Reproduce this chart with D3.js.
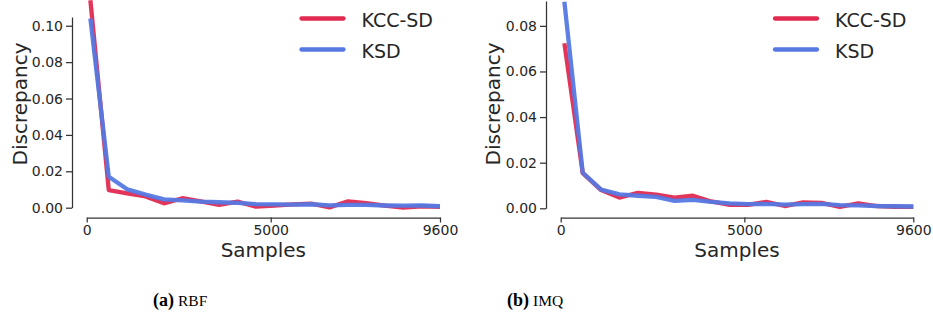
<!DOCTYPE html>
<html>
<head>
<meta charset="utf-8">
<script src="https://cdn.jsdelivr.net/npm/d3@7"></script>
<style>
  body { margin: 0; background: #fff; }
  .axis text { font-family: "DejaVu Sans", sans-serif; font-size: 14px; fill: #262626; }
  .axis path, .axis line { stroke: #333; stroke-width: 1.25; }
  .lbl { font-family: "DejaVu Sans", sans-serif; font-size: 20px; fill: #262626; }
  .leg { font-family: "DejaVu Sans", sans-serif; font-size: 19px; fill: #262626; }
  .cap { font-family: "Liberation Serif", "Times New Roman", serif; fill: #000; }
</style>
</head>
<body>
<div id="chart"></div>
<script>
// sample counts on the x axis
var samples = [100, 600, 1100, 1600, 2100, 2600, 3100, 3600, 4100, 4600,
               5100, 5600, 6100, 6600, 7100, 7600, 8100, 8600, 9100, 9600];
var xTicks = [0, 5000, 9600];

// (a) RBF kernel
var rbfKcc = [0.114, 0.0097, 0.0079, 0.0062, 0.0024, 0.0052, 0.0035, 0.0015, 0.0033, 0.0006,
              0.0012, 0.0018, 0.0022, 0.0002, 0.0035, 0.0025, 0.0012, 0.0000, 0.0008, 0.0005];
var rbfKsd = [0.104, 0.0170, 0.0101, 0.0072, 0.0046, 0.0040, 0.0033, 0.0030, 0.0027, 0.0020,
              0.0018, 0.0017, 0.0019, 0.0013, 0.0015, 0.0015, 0.0012, 0.0011, 0.0012, 0.0008];
var rbfTicks = [0, 0.02, 0.04, 0.06, 0.08, 0.10];

// (b) IMQ kernel
var imqKcc = [0.0724, 0.0154, 0.0080, 0.0047, 0.0068, 0.0060, 0.0047, 0.0055, 0.0030, 0.0015,
              0.0015, 0.0028, 0.0010, 0.0026, 0.0024, 0.0006, 0.0022, 0.0010, 0.0006, 0.0006];
var imqKsd = [0.0906, 0.0156, 0.0082, 0.0061, 0.0055, 0.0050, 0.0033, 0.0037, 0.0028, 0.0022,
              0.0018, 0.0019, 0.0016, 0.0018, 0.0019, 0.0014, 0.0013, 0.0010, 0.0009, 0.0008];
var imqTicks = [0, 0.02, 0.04, 0.06, 0.08];

var seriesNames = ['KCC-SD', 'KSD'];
var colors = ['#e12a50', '#5578e3'];

var svg = d3.select('#chart').append('svg')
  .attr('width', 933)
  .attr('height', 320);

function drawPanel(p) {
  var x = d3.scaleLinear().domain([0, 9600]).range([p.x0, p.x1]);
  var y = d3.scaleLinear().domain([0, p.yMax]).range([p.y0, p.y1]);

  // axes, spines offset like seaborn despine
  svg.append('g').attr('class', 'axis')
    .attr('transform', 'translate(0,' + p.xAxisY + ')')
    .call(d3.axisBottom(x).tickValues(xTicks).tickFormat(d3.format('d'))
      .tickSize(5).tickSizeOuter(0).tickPadding(3));
  svg.append('g').attr('class', 'axis')
    .attr('transform', 'translate(' + p.yAxisX + ',0)')
    .call(d3.axisLeft(y).tickValues(p.yTicks).tickFormat(d3.format('.2f'))
      .tickSize(6).tickSizeOuter(0).tickPadding(3));

  var line = d3.line()
    .x(function(d, i) { return x(samples[i]); })
    .y(function(d) { return y(d); });

  [p.kcc, p.ksd].forEach(function(vals, i) {
    svg.append('path')
      .datum(vals)
      .attr('fill', 'none')
      .attr('stroke', colors[i])
      .attr('stroke-width', 4.3)
      .attr('stroke-opacity', 0.95)
      .attr('stroke-linejoin', 'round')
      .attr('d', line);
  });

  // axis labels
  svg.append('text').attr('class', 'lbl')
    .attr('x', (p.x0 + p.x1) / 2).attr('y', 257)
    .attr('text-anchor', 'middle')
    .text('Samples');
  svg.append('text').attr('class', 'lbl')
    .attr('transform', 'translate(' + p.yLabelX + ',104) rotate(-90)')
    .attr('text-anchor', 'middle')
    .text('Discrepancy');

  // legend
  seriesNames.forEach(function(name, i) {
    var ly = 18.5 + i * 31;
    svg.append('line')
      .attr('x1', p.legX).attr('x2', p.legX + 42)
      .attr('y1', ly).attr('y2', ly)
      .attr('stroke', colors[i]).attr('stroke-width', 4.3)
      .attr('stroke-linecap', 'round');
    svg.append('text').attr('class', 'leg')
      .attr('x', p.legX + 60).attr('y', ly + 8)
      .text(name);
  });

  // caption
  var cap = svg.append('text').attr('class', 'cap')
    .attr('x', p.capX).attr('y', 306);
  cap.append('tspan').attr('font-weight', 'bold').attr('font-size', '18px').text(p.capTag);
  cap.append('tspan').attr('font-size', '15.5px').attr('dx', 4).text(p.capName);
}

drawPanel({
  x0: 86.7, x1: 440, y0: 207.7, y1: 17, yMax: 0.1048,
  xAxisY: 217.5, yAxisX: 72, yTicks: rbfTicks, yLabelX: 26.5,
  kcc: rbfKcc, ksd: rbfKsd, legX: 301.5,
  capX: 153, capTag: '(a)', capName: 'RBF'
});

drawPanel({
  x0: 560.7, x1: 913.3, y0: 208.3, y1: 1, yMax: 0.0909,
  xAxisY: 217.5, yAxisX: 546, yTicks: imqTicks, yLabelX: 500,
  kcc: imqKcc, ksd: imqKsd, legX: 775,
  capX: 507, capTag: '(b)', capName: 'IMQ'
});
</script>
</body>
</html>
